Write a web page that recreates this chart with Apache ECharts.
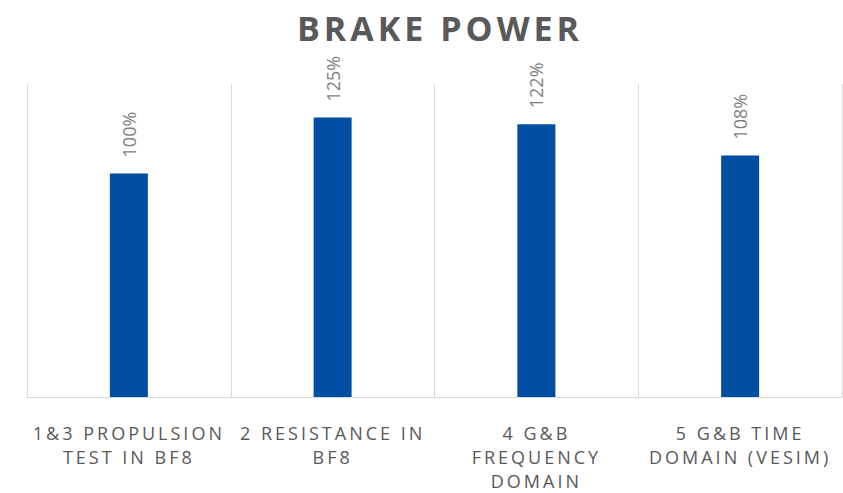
<!DOCTYPE html>
<html>
<head>
<meta charset="utf-8">
<script src="https://cdn.jsdelivr.net/npm/echarts@6/dist/echarts.min.js"></script>
<style>
  html, body { margin: 0; padding: 0; background: #fff; }
  #chart { width: 843px; height: 493px; }
</style>
</head>
<body>
<div id="chart"></div>
<script>
// categories as wrapped in the original chart
const categories = [
  '1&3 PROPULSION\nTEST IN BF8',
  '2 RESISTANCE IN\nBF8',
  '4 G&B\nFREQUENCY\nDOMAIN',
  '5 G&B TIME\nDOMAIN (VESIM)'
];
const brakePower = [100, 125, 122, 108];

const chart = echarts.init(document.getElementById('chart'), null, { renderer: 'svg' });

const option = {
  animation: false,
  title: {
    text: 'BRAKE POWER',
    left: 435,
    top: 6,
    textAlign: 'center',
    textStyle: {
      fontFamily: 'Open Sans',
      fontSize: 34,
      fontWeight: 'bold',
      color: '#595959'
    }
  },
  grid: {
    left: 27,
    right: 1,
    top: 84,
    bottom: 88,
    containLabel: false
  },
  xAxis: {
    type: 'category',
    data: categories,
    axisTick: { show: false },
    axisLine: { lineStyle: { color: '#d9d9d9', width: 1 } },
    splitLine: { show: true, lineStyle: { color: '#d9d9d9', width: 1 } },
    axisLabel: {
      interval: 0,
      margin: 24,
      fontFamily: 'Open Sans',
      fontSize: 18,
      lineHeight: 24,
      color: '#595959'
    }
  },
  yAxis: {
    type: 'value',
    min: 0,
    max: 140,
    show: false,
    splitLine: { show: false }
  },
  series: [{
    name: 'Brake power',
    type: 'bar',
    data: brakePower,
    barWidth: 38,
    itemStyle: { color: '#004fa2' },
    label: {
      show: true,
      position: 'top',
      rotate: 90,
      align: 'left',
      verticalAlign: 'middle',
      distance: 16,
      formatter: '{c}%',
      fontFamily: 'Open Sans',
      fontSize: 18,
      color: '#7f7f7f'
    }
  }]
};

chart.setOption(option);

// the original uses spaced-out capitals for title and axis labels
function spaceLetters() {
  document.querySelectorAll('#chart text').forEach(t => {
    const s = t.textContent || '';
    if (s.indexOf('%') >= 0) return;
    t.style.letterSpacing = s === 'BRAKE POWER' ? '4px' : '3px';
  });
}
spaceLetters();
chart.on('finished', spaceLetters);
</script>
</body>
</html>
